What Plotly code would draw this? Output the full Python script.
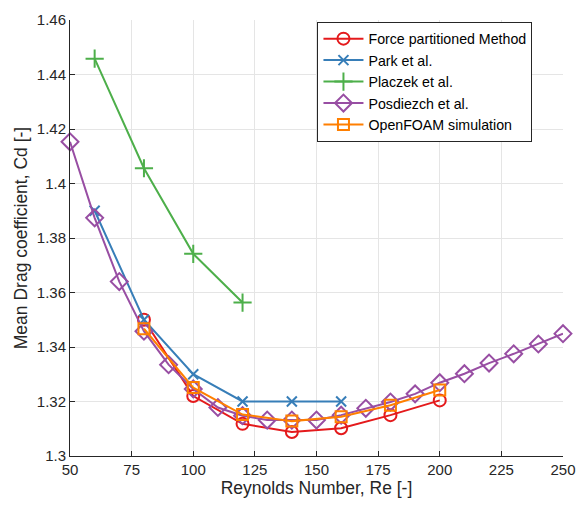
import plotly.graph_objects as go

re_force = [80, 100, 120, 140, 160, 180, 200]
cd_force = [1.350, 1.3220, 1.3118, 1.3088, 1.3102, 1.3150, 1.3204]

re_park = [60, 80, 100, 120, 140, 160]
cd_park = [1.390, 1.350, 1.330, 1.320, 1.320, 1.320]

re_placzek = [60, 80, 100, 120]
cd_placzek = [1.4458, 1.4056, 1.3742, 1.3563]

re_posdiezch = [50, 60, 70, 80, 90, 100, 110, 120, 130, 140, 150, 160, 170, 180, 190, 200, 210, 220, 230, 240, 250]
cd_posdiezch = [1.4153, 1.3874, 1.3640, 1.3458, 1.3335, 1.3246, 1.3178, 1.3148, 1.3132, 1.3132, 1.3132, 1.3150,
                1.3175, 1.3198, 1.3228, 1.3269, 1.3302, 1.3341, 1.3375, 1.3411, 1.3449]

re_openfoam = [80, 100, 120, 140, 160, 180, 200]
cd_openfoam = [1.3467, 1.3251, 1.3152, 1.3128, 1.3144, 1.3186, 1.3242]

x_ticks = [50, 75, 100, 125, 150, 175, 200, 225, 250]
y_ticks = [1.30, 1.32, 1.34, 1.36, 1.38, 1.40, 1.42, 1.44, 1.46]
y_tick_text = ["1.3", "1.32", "1.34", "1.36", "1.38", "1.4", "1.42", "1.44", "1.46"]

series = [
    ("Force partitioned Method", re_force, cd_force, "#e41a1c", "circle-open", 12),
    ("Park et al.", re_park, cd_park, "#377eb8", "x-thin-open", 10),
    ("Placzek et al.", re_placzek, cd_placzek, "#4daf4a", "cross-thin-open", 13),
    ("Posdiezch et al.", re_posdiezch, cd_posdiezch, "#984ea3", "diamond-open", 13),
    ("OpenFOAM simulation", re_openfoam, cd_openfoam, "#ff7f00", "square-open", 11),
]

fig = go.Figure()
for name, xs, ys, color, sym, size in series:
    fig.add_trace(go.Scatter(
        x=xs, y=ys, name=name, mode="lines+markers", cliponaxis=False,
        line=dict(color=color, width=2),
        marker=dict(symbol=sym, size=size, color=color, line=dict(color=color, width=2)),
    ))

fam = "Liberation Sans, Arial, sans-serif"
tick_font = dict(family=fam, size=15, color="#262626")

fig.update_layout(
    width=587, height=505,
    margin=dict(l=70, r=23, t=11, b=49),
    paper_bgcolor="white", plot_bgcolor="white",
    font=dict(family=fam, size=15, color="#262626"),
    showlegend=True,
    legend=dict(
        x=0.720, y=0.858, xanchor="center", yanchor="middle",
        bgcolor="white", bordercolor="#262626", borderwidth=1,
        font=dict(family=fam, size=14.2, color="#000000"),
        tracegroupgap=0, itemwidth=40,
    ),
    xaxis=dict(
        range=[50, 250], tickvals=x_ticks, ticks="inside", ticklen=5,
        tickcolor="#262626", showline=True, linecolor="#262626", linewidth=1,
        showgrid=True, gridcolor="#e5e5e5", gridwidth=1, zeroline=False,
        title=dict(text="Reynolds Number, Re [-]", font=dict(family=fam, size=17.5, color="#262626"), standoff=4),
        tickfont=tick_font,
    ),
    yaxis=dict(
        range=[1.30, 1.46], tickvals=y_ticks, ticktext=y_tick_text, ticks="inside", ticklen=5,
        tickcolor="#262626", showline=True, linecolor="#262626", linewidth=1,
        showgrid=True, gridcolor="#e5e5e5", gridwidth=1, zeroline=False,
        title=dict(text="Mean Drag coefficient, Cd [-]", font=dict(family=fam, size=17.5, color="#262626"), standoff=4),
        tickfont=tick_font,
    ),
)

fig.write_html("out.html")
